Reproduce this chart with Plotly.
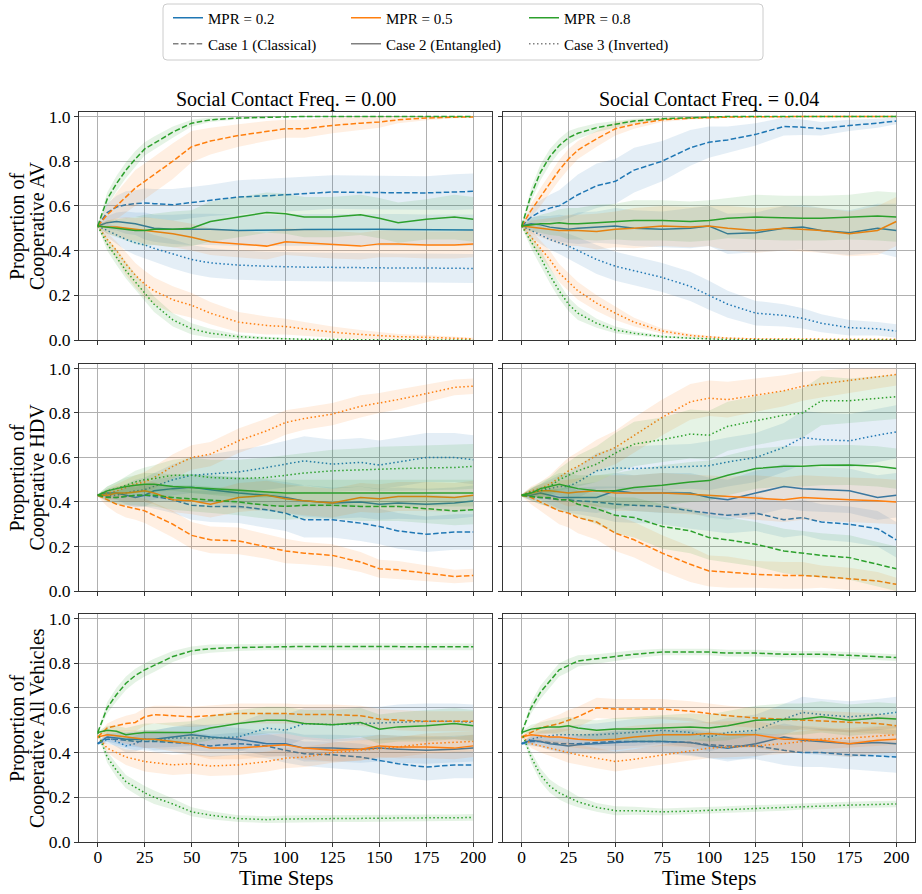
import plotly.graph_objects as go

# ---------------- data ----------------
T = [0, 5, 10, 15, 20, 25, 30, 40, 50, 60, 75, 90, 100, 110, 125, 140, 150, 160, 175, 190, 200]

X_TICKS = [0, 25, 50, 75, 100, 125, 150, 175, 200]
Y_TICKS = [0.0, 0.2, 0.4, 0.6, 0.8, 1.0]
Y_TICK_TEXT = ["0.0", "0.2", "0.4", "0.6", "0.8", "1.0"]

MPR_LABELS = ["MPR = 0.2", "MPR = 0.5", "MPR = 0.8"]
CASE_LABELS = ["Case 1 (Classical)", "Case 2 (Entangled)", "Case 3 (Inverted)"]
COL_TITLES = ["Social Contact Freq. = 0.00", "Social Contact Freq. = 0.04"]
ROW_TITLES = [["Proportion of", "Cooperative AV"], ["Proportion of", "Cooperative HDV"],
              ["Proportion of", "Cooperative All Vehicles"]]
X_TITLE = "Time Steps"

# ---- Row 1: AV, freq 0.00 ----
av_f00_m2_c1 = [0.51,0.57,0.595,0.605,0.61,0.613,0.61,0.605,0.615,0.625,0.64,0.645,0.65,0.655,0.662,0.66,0.66,0.658,0.658,0.662,0.665]
av_f00_m2_c2 = [0.51,0.525,0.53,0.525,0.52,0.51,0.50,0.495,0.495,0.495,0.49,0.49,0.492,0.494,0.495,0.495,0.495,0.494,0.492,0.492,0.492]
av_f00_m2_c3 = [0.51,0.49,0.47,0.45,0.435,0.425,0.41,0.385,0.36,0.345,0.335,0.33,0.327,0.326,0.325,0.323,0.322,0.322,0.322,0.321,0.32]
av_f00_m5_c1 = [0.51,0.56,0.60,0.64,0.68,0.71,0.74,0.80,0.865,0.89,0.915,0.935,0.945,0.945,0.96,0.97,0.975,0.985,0.993,0.997,0.998]
av_f00_m5_c2 = [0.51,0.505,0.505,0.50,0.495,0.49,0.485,0.475,0.46,0.44,0.43,0.42,0.44,0.435,0.425,0.42,0.43,0.43,0.425,0.425,0.43]
av_f00_m5_c3 = [0.51,0.45,0.40,0.34,0.29,0.25,0.22,0.18,0.155,0.12,0.08,0.065,0.06,0.05,0.035,0.025,0.02,0.015,0.012,0.008,0.005]
av_f00_m8_c1 = [0.51,0.63,0.70,0.76,0.81,0.855,0.88,0.93,0.97,0.985,0.993,0.997,0.999,1.0,1.0,1.0,1.0,1.0,1.0,1.0,1.0]
av_f00_m8_c2 = [0.51,0.505,0.50,0.495,0.49,0.49,0.495,0.495,0.50,0.53,0.55,0.57,0.565,0.55,0.55,0.56,0.545,0.525,0.54,0.55,0.54]
av_f00_m8_c3 = [0.51,0.43,0.37,0.31,0.26,0.21,0.16,0.09,0.05,0.03,0.015,0.008,0.005,0.003,0.002,0.001,0.0,0.0,0.0,0.0,0.0]

av_f00_m2_c1_sd = [0.005,0.04,0.05,0.06,0.06,0.065,0.065,0.07,0.07,0.07,0.075,0.075,0.075,0.075,0.075,0.075,0.075,0.075,0.075,0.08,0.08]
av_f00_m2_c2_sd = [0.005,0.03,0.04,0.05,0.05,0.06,0.06,0.065,0.07,0.07,0.07,0.07,0.07,0.07,0.07,0.07,0.07,0.07,0.07,0.07,0.07]
av_f00_m2_c3_sd = [0.005,0.03,0.04,0.05,0.055,0.06,0.06,0.065,0.065,0.065,0.065,0.065,0.065,0.065,0.065,0.065,0.065,0.065,0.065,0.065,0.065]
av_f00_m5_c1_sd = [0.005,0.04,0.06,0.07,0.08,0.08,0.08,0.08,0.07,0.06,0.05,0.045,0.04,0.04,0.035,0.03,0.025,0.015,0.01,0.005,0.004]
av_f00_m5_c2_sd = [0.005,0.03,0.04,0.05,0.05,0.06,0.06,0.06,0.06,0.06,0.06,0.06,0.06,0.06,0.06,0.06,0.06,0.06,0.06,0.06,0.06]
av_f00_m5_c3_sd = [0.005,0.03,0.04,0.05,0.055,0.06,0.06,0.06,0.055,0.05,0.045,0.04,0.035,0.03,0.025,0.02,0.015,0.012,0.01,0.008,0.005]
av_f00_m8_c1_sd = [0.005,0.03,0.035,0.035,0.035,0.03,0.03,0.025,0.015,0.01,0.005,0.003,0.002,0.001,0,0,0,0,0,0,0]
av_f00_m8_c2_sd = [0.005,0.03,0.04,0.05,0.06,0.07,0.07,0.08,0.08,0.09,0.09,0.09,0.09,0.09,0.09,0.09,0.09,0.09,0.09,0.1,0.1]
av_f00_m8_c3_sd = [0.005,0.03,0.035,0.035,0.035,0.035,0.035,0.03,0.025,0.02,0.01,0.006,0.004,0.002,0.001,0,0,0,0,0,0]

# ---- Row 1: AV, freq 0.04 ----
av_f04_m2_c1 = [0.51,0.55,0.575,0.59,0.60,0.625,0.65,0.69,0.71,0.76,0.80,0.86,0.885,0.895,0.92,0.955,0.952,0.945,0.96,0.97,0.98]
av_f04_m2_c2 = [0.51,0.52,0.515,0.505,0.50,0.495,0.50,0.505,0.51,0.50,0.495,0.50,0.51,0.475,0.48,0.50,0.505,0.49,0.48,0.50,0.49]
av_f04_m2_c3 = [0.51,0.49,0.47,0.45,0.435,0.42,0.40,0.36,0.33,0.31,0.28,0.24,0.20,0.16,0.12,0.11,0.097,0.075,0.055,0.05,0.04]
av_f04_m5_c1 = [0.51,0.58,0.64,0.70,0.76,0.81,0.85,0.90,0.945,0.965,0.985,0.992,0.995,0.997,0.999,1.0,1.0,1.0,1.0,1.0,1.0]
av_f04_m5_c2 = [0.51,0.505,0.50,0.495,0.49,0.49,0.49,0.485,0.495,0.50,0.51,0.505,0.51,0.50,0.49,0.50,0.495,0.49,0.475,0.49,0.53]
av_f04_m5_c3 = [0.51,0.46,0.41,0.36,0.30,0.26,0.22,0.165,0.12,0.08,0.04,0.02,0.013,0.008,0.005,0.004,0.003,0.003,0.003,0.003,0.003]
av_f04_m8_c1 = [0.51,0.65,0.75,0.82,0.87,0.905,0.925,0.95,0.965,0.98,0.99,0.995,0.998,1.0,1.0,1.0,1.0,1.0,1.0,1.0,1.0]
av_f04_m8_c2 = [0.51,0.515,0.52,0.52,0.525,0.52,0.52,0.525,0.53,0.535,0.535,0.53,0.535,0.545,0.55,0.545,0.545,0.545,0.55,0.555,0.55]
av_f04_m8_c3 = [0.51,0.44,0.37,0.29,0.22,0.16,0.12,0.075,0.045,0.03,0.015,0.008,0.004,0.002,0.001,0,0,0,0,0,0]

av_f04_m2_c1_sd = [0.005,0.04,0.05,0.06,0.07,0.08,0.09,0.10,0.10,0.10,0.09,0.08,0.07,0.06,0.05,0.04,0.035,0.03,0.025,0.02,0.015]
av_f04_m2_c2_sd = [0.005,0.03,0.04,0.05,0.06,0.06,0.07,0.07,0.08,0.08,0.08,0.09,0.09,0.09,0.09,0.1,0.1,0.1,0.1,0.11,0.12]
av_f04_m2_c3_sd = [0.005,0.03,0.04,0.045,0.05,0.055,0.06,0.065,0.065,0.065,0.065,0.065,0.065,0.06,0.055,0.05,0.045,0.04,0.035,0.03,0.03]
av_f04_m5_c1_sd = [0.005,0.03,0.04,0.045,0.045,0.045,0.04,0.035,0.03,0.02,0.01,0.006,0.004,0.003,0.002,0.001,0,0,0,0,0]
av_f04_m5_c2_sd = [0.005,0.03,0.04,0.05,0.06,0.07,0.07,0.08,0.08,0.09,0.09,0.09,0.09,0.1,0.1,0.1,0.1,0.1,0.1,0.11,0.11]
av_f04_m5_c3_sd = [0.005,0.03,0.035,0.04,0.04,0.04,0.04,0.035,0.03,0.02,0.012,0.008,0.006,0.004,0.003,0.002,0.002,0.002,0.002,0.002,0.002]
av_f04_m8_c1_sd = [0.005,0.03,0.035,0.035,0.03,0.03,0.025,0.02,0.015,0.01,0.005,0.003,0.002,0.001,0,0,0,0,0,0,0]
av_f04_m8_c2_sd = [0.005,0.03,0.04,0.05,0.06,0.07,0.07,0.08,0.08,0.09,0.09,0.09,0.09,0.09,0.1,0.1,0.1,0.1,0.1,0.11,0.11]
av_f04_m8_c3_sd = [0.005,0.03,0.035,0.035,0.035,0.03,0.03,0.02,0.015,0.01,0.006,0.004,0.002,0.001,0,0,0,0,0,0,0]

# ---- Row 2: HDV, freq 0.00 ----
hdv_f00_m2_c1 = [0.43,0.425,0.42,0.425,0.43,0.43,0.425,0.41,0.385,0.38,0.38,0.365,0.35,0.32,0.32,0.305,0.29,0.27,0.255,0.265,0.265]
hdv_f00_m2_c2 = [0.43,0.44,0.44,0.43,0.42,0.43,0.45,0.46,0.466,0.455,0.44,0.43,0.42,0.405,0.395,0.40,0.39,0.395,0.39,0.395,0.404]
hdv_f00_m2_c3 = [0.43,0.43,0.43,0.44,0.45,0.455,0.47,0.50,0.52,0.525,0.535,0.555,0.57,0.585,0.57,0.578,0.566,0.58,0.60,0.60,0.59]
hdv_f00_m5_c1 = [0.43,0.41,0.39,0.38,0.37,0.36,0.34,0.30,0.25,0.23,0.225,0.20,0.18,0.17,0.16,0.13,0.10,0.095,0.08,0.065,0.07]
hdv_f00_m5_c2 = [0.43,0.43,0.44,0.44,0.445,0.45,0.44,0.41,0.405,0.39,0.42,0.43,0.415,0.405,0.395,0.42,0.415,0.425,0.425,0.42,0.43]
hdv_f00_m5_c3 = [0.43,0.44,0.45,0.465,0.48,0.49,0.51,0.56,0.60,0.615,0.675,0.72,0.757,0.775,0.795,0.83,0.845,0.86,0.887,0.915,0.92]
hdv_f00_m8_c1 = [0.43,0.42,0.42,0.425,0.43,0.43,0.43,0.42,0.415,0.41,0.40,0.385,0.38,0.385,0.385,0.38,0.38,0.38,0.37,0.36,0.365]
hdv_f00_m8_c2 = [0.43,0.45,0.46,0.47,0.475,0.48,0.48,0.47,0.465,0.46,0.45,0.445,0.44,0.44,0.44,0.44,0.44,0.44,0.44,0.44,0.44]
hdv_f00_m8_c3 = [0.43,0.45,0.46,0.475,0.49,0.50,0.505,0.52,0.52,0.51,0.505,0.51,0.52,0.53,0.54,0.545,0.548,0.55,0.553,0.555,0.56]

hdv_f00_m2_c1_sd = [0.005,0.02,0.03,0.04,0.05,0.05,0.055,0.06,0.065,0.07,0.075,0.08,0.08,0.08,0.08,0.08,0.08,0.08,0.08,0.08,0.08]
hdv_f00_m2_c2_sd = [0.005,0.02,0.03,0.04,0.045,0.05,0.05,0.055,0.06,0.065,0.07,0.07,0.07,0.07,0.07,0.07,0.07,0.07,0.07,0.07,0.07]
hdv_f00_m2_c3_sd = [0.005,0.02,0.03,0.04,0.05,0.055,0.06,0.07,0.08,0.09,0.1,0.1,0.105,0.11,0.11,0.11,0.11,0.11,0.11,0.11,0.11]
hdv_f00_m5_c1_sd = [0.005,0.03,0.04,0.05,0.05,0.055,0.055,0.06,0.06,0.06,0.06,0.055,0.055,0.05,0.05,0.045,0.04,0.04,0.035,0.03,0.03]
hdv_f00_m5_c2_sd = [0.005,0.02,0.03,0.04,0.045,0.05,0.05,0.055,0.06,0.06,0.065,0.065,0.065,0.065,0.065,0.065,0.065,0.065,0.065,0.065,0.065]
hdv_f00_m5_c3_sd = [0.005,0.02,0.03,0.035,0.04,0.045,0.05,0.055,0.055,0.055,0.055,0.055,0.055,0.05,0.05,0.05,0.045,0.045,0.04,0.035,0.035]
hdv_f00_m8_c1_sd = [0.005,0.02,0.03,0.04,0.045,0.05,0.05,0.055,0.06,0.06,0.06,0.06,0.06,0.06,0.06,0.065,0.065,0.065,0.065,0.065,0.065]
hdv_f00_m8_c2_sd = [0.005,0.02,0.03,0.04,0.045,0.05,0.05,0.055,0.06,0.06,0.06,0.06,0.06,0.06,0.06,0.06,0.06,0.06,0.06,0.06,0.06]
hdv_f00_m8_c3_sd = [0.005,0.02,0.03,0.04,0.05,0.055,0.06,0.07,0.08,0.08,0.085,0.09,0.09,0.09,0.095,0.095,0.1,0.1,0.1,0.1,0.1]

# ---- Row 2: HDV, freq 0.04 ----
hdv_f04_m2_c1 = [0.43,0.425,0.42,0.415,0.41,0.41,0.405,0.40,0.39,0.385,0.38,0.36,0.35,0.34,0.35,0.32,0.33,0.31,0.30,0.28,0.23]
hdv_f04_m2_c2 = [0.43,0.43,0.44,0.43,0.42,0.42,0.42,0.42,0.45,0.44,0.44,0.44,0.42,0.41,0.44,0.47,0.46,0.455,0.45,0.42,0.43]
hdv_f04_m2_c3 = [0.43,0.44,0.45,0.46,0.47,0.47,0.49,0.54,0.553,0.55,0.556,0.56,0.563,0.58,0.60,0.645,0.69,0.68,0.675,0.70,0.715]
hdv_f04_m5_c1 = [0.43,0.42,0.40,0.38,0.36,0.35,0.33,0.31,0.26,0.23,0.17,0.12,0.09,0.085,0.075,0.07,0.07,0.065,0.055,0.045,0.03]
hdv_f04_m5_c2 = [0.43,0.44,0.45,0.45,0.445,0.44,0.445,0.45,0.44,0.44,0.44,0.435,0.43,0.425,0.42,0.41,0.42,0.415,0.41,0.405,0.40]
hdv_f04_m5_c3 = [0.43,0.45,0.46,0.48,0.51,0.54,0.56,0.61,0.645,0.70,0.78,0.85,0.866,0.86,0.88,0.90,0.92,0.93,0.946,0.96,0.973]
hdv_f04_m8_c1 = [0.43,0.425,0.42,0.42,0.41,0.41,0.39,0.37,0.34,0.33,0.29,0.27,0.24,0.23,0.21,0.18,0.17,0.16,0.15,0.12,0.10]
hdv_f04_m8_c2 = [0.43,0.44,0.46,0.47,0.48,0.47,0.46,0.45,0.45,0.465,0.475,0.49,0.496,0.52,0.55,0.56,0.56,0.565,0.566,0.56,0.55]
hdv_f04_m8_c3 = [0.43,0.445,0.45,0.47,0.50,0.52,0.54,0.57,0.62,0.66,0.68,0.705,0.70,0.74,0.765,0.79,0.80,0.855,0.855,0.865,0.873]

hdv_f04_m2_c1_sd = [0.005,0.02,0.03,0.04,0.05,0.06,0.06,0.07,0.08,0.08,0.08,0.08,0.08,0.08,0.08,0.08,0.08,0.08,0.08,0.08,0.08]
hdv_f04_m2_c2_sd = [0.005,0.02,0.03,0.04,0.05,0.06,0.06,0.07,0.08,0.08,0.09,0.09,0.09,0.09,0.1,0.1,0.1,0.1,0.1,0.1,0.1]
hdv_f04_m2_c3_sd = [0.005,0.02,0.03,0.04,0.05,0.06,0.07,0.08,0.09,0.1,0.1,0.1,0.11,0.11,0.11,0.11,0.12,0.12,0.12,0.12,0.12]
hdv_f04_m5_c1_sd = [0.005,0.03,0.04,0.05,0.06,0.065,0.07,0.08,0.08,0.08,0.08,0.08,0.07,0.07,0.06,0.06,0.06,0.05,0.05,0.04,0.03]
hdv_f04_m5_c2_sd = [0.005,0.02,0.03,0.04,0.05,0.06,0.06,0.07,0.08,0.08,0.09,0.09,0.09,0.09,0.1,0.1,0.1,0.1,0.1,0.1,0.1]
hdv_f04_m5_c3_sd = [0.005,0.02,0.03,0.04,0.05,0.06,0.065,0.07,0.075,0.08,0.08,0.08,0.08,0.08,0.075,0.07,0.065,0.06,0.055,0.05,0.05]
hdv_f04_m8_c1_sd = [0.005,0.02,0.03,0.04,0.05,0.06,0.06,0.07,0.08,0.09,0.1,0.1,0.1,0.1,0.1,0.1,0.1,0.1,0.1,0.1,0.1]
hdv_f04_m8_c2_sd = [0.005,0.02,0.03,0.04,0.05,0.06,0.06,0.07,0.08,0.08,0.09,0.09,0.09,0.09,0.09,0.09,0.09,0.09,0.09,0.09,0.09]
hdv_f04_m8_c3_sd = [0.005,0.02,0.03,0.04,0.05,0.06,0.07,0.08,0.09,0.1,0.1,0.11,0.11,0.11,0.11,0.11,0.11,0.11,0.1,0.1,0.1]

# ---- Row 3: All vehicles, freq 0.00 ----
all_f00_m2_c1 = [0.44,0.46,0.46,0.455,0.45,0.45,0.45,0.445,0.44,0.43,0.44,0.43,0.41,0.395,0.39,0.38,0.365,0.35,0.335,0.345,0.345]
all_f00_m2_c2 = [0.44,0.47,0.465,0.46,0.46,0.46,0.46,0.47,0.48,0.47,0.46,0.44,0.44,0.42,0.42,0.415,0.42,0.415,0.41,0.415,0.42]
all_f00_m2_c3 = [0.44,0.47,0.45,0.43,0.44,0.46,0.455,0.465,0.465,0.465,0.47,0.51,0.50,0.53,0.525,0.53,0.53,0.535,0.54,0.54,0.535]
all_f00_m5_c1 = [0.47,0.51,0.52,0.53,0.535,0.56,0.57,0.565,0.56,0.565,0.575,0.575,0.575,0.57,0.57,0.565,0.55,0.545,0.54,0.54,0.54]
all_f00_m5_c2 = [0.47,0.48,0.475,0.47,0.465,0.46,0.46,0.45,0.44,0.42,0.42,0.43,0.435,0.42,0.41,0.415,0.43,0.425,0.425,0.42,0.43]
all_f00_m5_c3 = [0.47,0.42,0.40,0.38,0.37,0.36,0.355,0.345,0.35,0.34,0.345,0.36,0.375,0.38,0.40,0.41,0.42,0.425,0.44,0.445,0.45]
all_f00_m8_c1 = [0.49,0.60,0.66,0.71,0.745,0.77,0.79,0.83,0.855,0.865,0.87,0.873,0.875,0.875,0.875,0.875,0.875,0.875,0.873,0.873,0.873]
all_f00_m8_c2 = [0.49,0.50,0.495,0.48,0.485,0.49,0.49,0.49,0.49,0.51,0.53,0.545,0.545,0.53,0.525,0.535,0.505,0.515,0.52,0.53,0.52]
all_f00_m8_c3 = [0.49,0.38,0.32,0.27,0.245,0.22,0.20,0.17,0.135,0.12,0.105,0.10,0.103,0.104,0.105,0.105,0.105,0.107,0.108,0.108,0.11]

all_f00_m2_c1_sd = [0.005,0.02,0.03,0.035,0.04,0.04,0.045,0.045,0.05,0.05,0.05,0.055,0.055,0.055,0.06,0.06,0.06,0.06,0.06,0.06,0.06]
all_f00_m2_c2_sd = [0.005,0.02,0.025,0.03,0.035,0.04,0.04,0.045,0.05,0.05,0.05,0.055,0.055,0.06,0.06,0.06,0.06,0.06,0.06,0.06,0.06]
all_f00_m2_c3_sd = [0.005,0.02,0.025,0.03,0.035,0.04,0.045,0.05,0.055,0.06,0.065,0.07,0.07,0.07,0.075,0.075,0.075,0.08,0.08,0.08,0.08]
all_f00_m5_c1_sd = [0.005,0.02,0.03,0.035,0.04,0.04,0.04,0.045,0.045,0.045,0.045,0.045,0.045,0.045,0.045,0.045,0.045,0.045,0.045,0.045,0.045]
all_f00_m5_c2_sd = [0.005,0.02,0.025,0.03,0.035,0.04,0.04,0.045,0.05,0.05,0.05,0.05,0.05,0.05,0.05,0.05,0.05,0.05,0.05,0.05,0.05]
all_f00_m5_c3_sd = [0.005,0.02,0.03,0.035,0.04,0.045,0.045,0.045,0.045,0.045,0.045,0.045,0.045,0.045,0.045,0.045,0.045,0.045,0.045,0.045,0.045]
all_f00_m8_c1_sd = [0.005,0.025,0.03,0.03,0.03,0.03,0.03,0.025,0.02,0.018,0.015,0.015,0.015,0.015,0.015,0.015,0.015,0.015,0.015,0.015,0.015]
all_f00_m8_c2_sd = [0.005,0.02,0.025,0.03,0.035,0.04,0.04,0.045,0.05,0.055,0.06,0.06,0.06,0.06,0.065,0.065,0.065,0.065,0.07,0.07,0.07]
all_f00_m8_c3_sd = [0.005,0.025,0.03,0.03,0.03,0.03,0.03,0.025,0.02,0.018,0.015,0.015,0.015,0.015,0.015,0.015,0.015,0.015,0.015,0.015,0.015]

# ---- Row 3: All vehicles, freq 0.04 ----
all_f04_m2_c1 = [0.44,0.45,0.45,0.445,0.44,0.44,0.44,0.445,0.45,0.45,0.45,0.445,0.435,0.43,0.43,0.41,0.40,0.40,0.39,0.385,0.38]
all_f04_m2_c2 = [0.44,0.455,0.45,0.44,0.435,0.43,0.435,0.44,0.445,0.45,0.45,0.445,0.43,0.42,0.44,0.47,0.455,0.45,0.44,0.445,0.44]
all_f04_m2_c3 = [0.44,0.46,0.47,0.475,0.48,0.48,0.48,0.48,0.485,0.49,0.50,0.49,0.47,0.49,0.50,0.55,0.58,0.57,0.56,0.57,0.58]
all_f04_m5_c1 = [0.47,0.49,0.51,0.52,0.53,0.545,0.56,0.60,0.595,0.595,0.595,0.585,0.575,0.565,0.555,0.55,0.545,0.54,0.535,0.53,0.52]
all_f04_m5_c2 = [0.47,0.48,0.475,0.47,0.47,0.465,0.46,0.455,0.46,0.47,0.48,0.48,0.485,0.48,0.48,0.46,0.46,0.455,0.44,0.455,0.46]
all_f04_m5_c3 = [0.47,0.44,0.43,0.42,0.41,0.40,0.39,0.375,0.36,0.37,0.39,0.41,0.42,0.425,0.43,0.44,0.45,0.46,0.465,0.475,0.48]
all_f04_m8_c1 = [0.49,0.60,0.67,0.72,0.77,0.79,0.81,0.82,0.83,0.84,0.85,0.85,0.85,0.845,0.845,0.84,0.84,0.84,0.835,0.83,0.825]
all_f04_m8_c2 = [0.49,0.505,0.51,0.515,0.515,0.52,0.51,0.50,0.505,0.505,0.51,0.515,0.51,0.52,0.545,0.55,0.55,0.56,0.545,0.555,0.55]
all_f04_m8_c3 = [0.49,0.38,0.30,0.25,0.22,0.20,0.18,0.155,0.14,0.14,0.135,0.138,0.14,0.145,0.15,0.155,0.16,0.163,0.165,0.168,0.17]

all_f04_m2_c1_sd = [0.005,0.02,0.025,0.03,0.035,0.04,0.04,0.045,0.05,0.05,0.055,0.06,0.06,0.06,0.06,0.065,0.065,0.065,0.065,0.07,0.07]
all_f04_m2_c2_sd = [0.005,0.02,0.025,0.03,0.035,0.04,0.04,0.045,0.05,0.05,0.05,0.055,0.055,0.06,0.06,0.06,0.06,0.06,0.06,0.06,0.06]
all_f04_m2_c3_sd = [0.005,0.02,0.025,0.03,0.035,0.04,0.045,0.05,0.055,0.06,0.06,0.065,0.065,0.065,0.07,0.07,0.07,0.07,0.07,0.07,0.07]
all_f04_m5_c1_sd = [0.005,0.02,0.03,0.035,0.04,0.045,0.045,0.045,0.045,0.045,0.045,0.045,0.045,0.045,0.045,0.045,0.045,0.045,0.045,0.045,0.045]
all_f04_m5_c2_sd = [0.005,0.02,0.025,0.03,0.035,0.04,0.04,0.045,0.05,0.05,0.05,0.055,0.055,0.06,0.06,0.06,0.06,0.06,0.06,0.06,0.06]
all_f04_m5_c3_sd = [0.005,0.02,0.03,0.035,0.04,0.045,0.045,0.045,0.045,0.045,0.045,0.045,0.045,0.045,0.045,0.045,0.045,0.045,0.045,0.045,0.045]
all_f04_m8_c1_sd = [0.005,0.025,0.03,0.03,0.03,0.03,0.025,0.02,0.02,0.018,0.015,0.015,0.015,0.015,0.015,0.015,0.015,0.015,0.015,0.015,0.015]
all_f04_m8_c2_sd = [0.005,0.02,0.025,0.03,0.035,0.04,0.04,0.045,0.05,0.055,0.06,0.06,0.06,0.065,0.065,0.07,0.07,0.07,0.07,0.07,0.07]
all_f04_m8_c3_sd = [0.005,0.025,0.03,0.03,0.03,0.03,0.025,0.02,0.02,0.018,0.015,0.015,0.015,0.015,0.015,0.015,0.015,0.015,0.015,0.015,0.015]

# panels[row][col][mpr][case] = (mean, band half-width)
panels = [
    [
        [[(av_f00_m2_c1, av_f00_m2_c1_sd), (av_f00_m2_c2, av_f00_m2_c2_sd), (av_f00_m2_c3, av_f00_m2_c3_sd)],
         [(av_f00_m5_c1, av_f00_m5_c1_sd), (av_f00_m5_c2, av_f00_m5_c2_sd), (av_f00_m5_c3, av_f00_m5_c3_sd)],
         [(av_f00_m8_c1, av_f00_m8_c1_sd), (av_f00_m8_c2, av_f00_m8_c2_sd), (av_f00_m8_c3, av_f00_m8_c3_sd)]],
        [[(av_f04_m2_c1, av_f04_m2_c1_sd), (av_f04_m2_c2, av_f04_m2_c2_sd), (av_f04_m2_c3, av_f04_m2_c3_sd)],
         [(av_f04_m5_c1, av_f04_m5_c1_sd), (av_f04_m5_c2, av_f04_m5_c2_sd), (av_f04_m5_c3, av_f04_m5_c3_sd)],
         [(av_f04_m8_c1, av_f04_m8_c1_sd), (av_f04_m8_c2, av_f04_m8_c2_sd), (av_f04_m8_c3, av_f04_m8_c3_sd)]],
    ],
    [
        [[(hdv_f00_m2_c1, hdv_f00_m2_c1_sd), (hdv_f00_m2_c2, hdv_f00_m2_c2_sd), (hdv_f00_m2_c3, hdv_f00_m2_c3_sd)],
         [(hdv_f00_m5_c1, hdv_f00_m5_c1_sd), (hdv_f00_m5_c2, hdv_f00_m5_c2_sd), (hdv_f00_m5_c3, hdv_f00_m5_c3_sd)],
         [(hdv_f00_m8_c1, hdv_f00_m8_c1_sd), (hdv_f00_m8_c2, hdv_f00_m8_c2_sd), (hdv_f00_m8_c3, hdv_f00_m8_c3_sd)]],
        [[(hdv_f04_m2_c1, hdv_f04_m2_c1_sd), (hdv_f04_m2_c2, hdv_f04_m2_c2_sd), (hdv_f04_m2_c3, hdv_f04_m2_c3_sd)],
         [(hdv_f04_m5_c1, hdv_f04_m5_c1_sd), (hdv_f04_m5_c2, hdv_f04_m5_c2_sd), (hdv_f04_m5_c3, hdv_f04_m5_c3_sd)],
         [(hdv_f04_m8_c1, hdv_f04_m8_c1_sd), (hdv_f04_m8_c2, hdv_f04_m8_c2_sd), (hdv_f04_m8_c3, hdv_f04_m8_c3_sd)]],
    ],
    [
        [[(all_f00_m2_c1, all_f00_m2_c1_sd), (all_f00_m2_c2, all_f00_m2_c2_sd), (all_f00_m2_c3, all_f00_m2_c3_sd)],
         [(all_f00_m5_c1, all_f00_m5_c1_sd), (all_f00_m5_c2, all_f00_m5_c2_sd), (all_f00_m5_c3, all_f00_m5_c3_sd)],
         [(all_f00_m8_c1, all_f00_m8_c1_sd), (all_f00_m8_c2, all_f00_m8_c2_sd), (all_f00_m8_c3, all_f00_m8_c3_sd)]],
        [[(all_f04_m2_c1, all_f04_m2_c1_sd), (all_f04_m2_c2, all_f04_m2_c2_sd), (all_f04_m2_c3, all_f04_m2_c3_sd)],
         [(all_f04_m5_c1, all_f04_m5_c1_sd), (all_f04_m5_c2, all_f04_m5_c2_sd), (all_f04_m5_c3, all_f04_m5_c3_sd)],
         [(all_f04_m8_c1, all_f04_m8_c1_sd), (all_f04_m8_c2, all_f04_m8_c2_sd), (all_f04_m8_c3, all_f04_m8_c3_sd)]],
    ],
]

# ---------------- style ----------------
W, H = 922, 894
FONT = "Liberation Serif, Times New Roman, serif"
COLORS = ["#1f77b4", "#ff7f0e", "#2ca02c"]
BANDS = ["rgba(31,119,180,0.12)", "rgba(255,127,14,0.12)", "rgba(44,160,44,0.12)"]
DASHES = ["5.5px,2.4px", "solid", "1.5px,2.5px"]
CASE_COLOR = "#808080"
LW = 1.5


def px_x(p):
    return p / W


def px_y(p):
    return 1 - p / H


X_DOMAINS = [[px_x(79), px_x(492)], [px_x(503), px_x(915)]]
Y_DOMAINS = [[px_y(340), px_y(112)], [px_y(591), px_y(364)], [px_y(842), px_y(614)]]

fig = go.Figure()

# legend entries (two rows = two legends)
for m in range(3):
    fig.add_trace(go.Scatter(x=[None], y=[None], mode="lines", name=MPR_LABELS[m],
                             line=dict(color=COLORS[m], width=LW), legend="legend"))
for k in range(3):
    fig.add_trace(go.Scatter(x=[None], y=[None], mode="lines", name=CASE_LABELS[k],
                             line=dict(color=CASE_COLOR, width=LW, dash=DASHES[k]),
                             legend="legend2"))

for r in range(3):
    for c in range(2):
        i = r * 2 + c + 1
        xa = "x" if i == 1 else f"x{i}"
        ya = "y" if i == 1 else f"y{i}"
        for m in range(3):
            for k in range(3):
                mean, sd = panels[r][c][m][k]
                upper = [min(1.0, a + b) for a, b in zip(mean, sd)]
                lower = [max(0.0, a - b) for a, b in zip(mean, sd)]
                fig.add_trace(go.Scatter(
                    x=T + T[::-1], y=upper + lower[::-1], mode="lines", fill="toself",
                    fillcolor=BANDS[m], line=dict(width=0, color=BANDS[m]),
                    hoverinfo="skip", showlegend=False, xaxis=xa, yaxis=ya))
                fig.add_trace(go.Scatter(
                    x=T, y=mean, mode="lines",
                    line=dict(color=COLORS[m], width=LW, dash=DASHES[k]),
                    showlegend=False, xaxis=xa, yaxis=ya))

        axis_common = dict(showgrid=True, gridcolor="#b0b0b0", gridwidth=0.8,
                           showline=True, mirror=True, linecolor="#333333", linewidth=1,
                           ticks="outside", ticklen=4, tickwidth=1, tickcolor="#333333",
                           zeroline=False, automargin=False,
                           tickfont=dict(family=FONT, size=17.5, color="#000"))
        fig.update_layout({
            f"xaxis{i}": dict(domain=X_DOMAINS[c], range=[-10, 210], tickvals=X_TICKS,
                              showticklabels=(r == 2), anchor=ya, ticklabelstandoff=-5,
                              **axis_common),
            f"yaxis{i}": dict(domain=Y_DOMAINS[r], range=[0, 1.02], tickvals=Y_TICKS,
                              ticktext=Y_TICK_TEXT, showticklabels=(c == 0), anchor=xa,
                              **axis_common),
        })

annotations = []
for c in range(2):
    xc = (X_DOMAINS[c][0] + X_DOMAINS[c][1]) / 2
    annotations.append(dict(text=COL_TITLES[c], x=xc, y=px_y(99), xref="paper", yref="paper",
                            xanchor="center", yanchor="middle", showarrow=False,
                            font=dict(family=FONT, size=20, color="#000")))
    annotations.append(dict(text=X_TITLE, x=xc, y=px_y(878), xref="paper", yref="paper",
                            xanchor="center", yanchor="middle", showarrow=False,
                            font=dict(family=FONT, size=21, color="#000")))
for r in range(3):
    yc = (Y_DOMAINS[r][0] + Y_DOMAINS[r][1]) / 2
    for j, xpx in enumerate([17, 37]):
        annotations.append(dict(text=ROW_TITLES[r][j], x=px_x(xpx), y=yc, xref="paper",
                                yref="paper", xanchor="center", yanchor="middle",
                                showarrow=False, textangle=-90,
                                font=dict(family=FONT, size=20, color="#000")))

# legend frame with slightly rounded corners
bx0, bx1, by0, by1, rad = 163, 763, 4, 60, 4
frame_path = (
    f"M {px_x(bx0 + rad)},{px_y(by0)} L {px_x(bx1 - rad)},{px_y(by0)} "
    f"Q {px_x(bx1)},{px_y(by0)} {px_x(bx1)},{px_y(by0 + rad)} "
    f"L {px_x(bx1)},{px_y(by1 - rad)} Q {px_x(bx1)},{px_y(by1)} {px_x(bx1 - rad)},{px_y(by1)} "
    f"L {px_x(bx0 + rad)},{px_y(by1)} Q {px_x(bx0)},{px_y(by1)} {px_x(bx0)},{px_y(by1 - rad)} "
    f"L {px_x(bx0)},{px_y(by0 + rad)} Q {px_x(bx0)},{px_y(by0)} {px_x(bx0 + rad)},{px_y(by0)} Z"
)

legend_common = dict(orientation="h", xanchor="left", yanchor="middle",
                     bgcolor="rgba(0,0,0,0)", borderwidth=0,
                     font=dict(family=FONT, size=15, color="#000"),
                     entrywidth=133, entrywidthmode="pixels", traceorder="normal")

fig.update_layout(
    width=W, height=H, margin=dict(l=0, r=0, t=0, b=0, autoexpand=False),
    plot_bgcolor="white", paper_bgcolor="white",
    font=dict(family=FONT, size=14, color="#000"),
    annotations=annotations,
    shapes=[dict(type="path", path=frame_path, xref="paper", yref="paper",
                 line=dict(color="#cccccc", width=1), fillcolor="white", layer="below")],
    showlegend=True,
    legend=dict(x=px_x(168), y=px_y(18), **legend_common),
    legend2=dict(x=px_x(168), y=px_y(44), **legend_common),
)

fig.write_html("out.html")
